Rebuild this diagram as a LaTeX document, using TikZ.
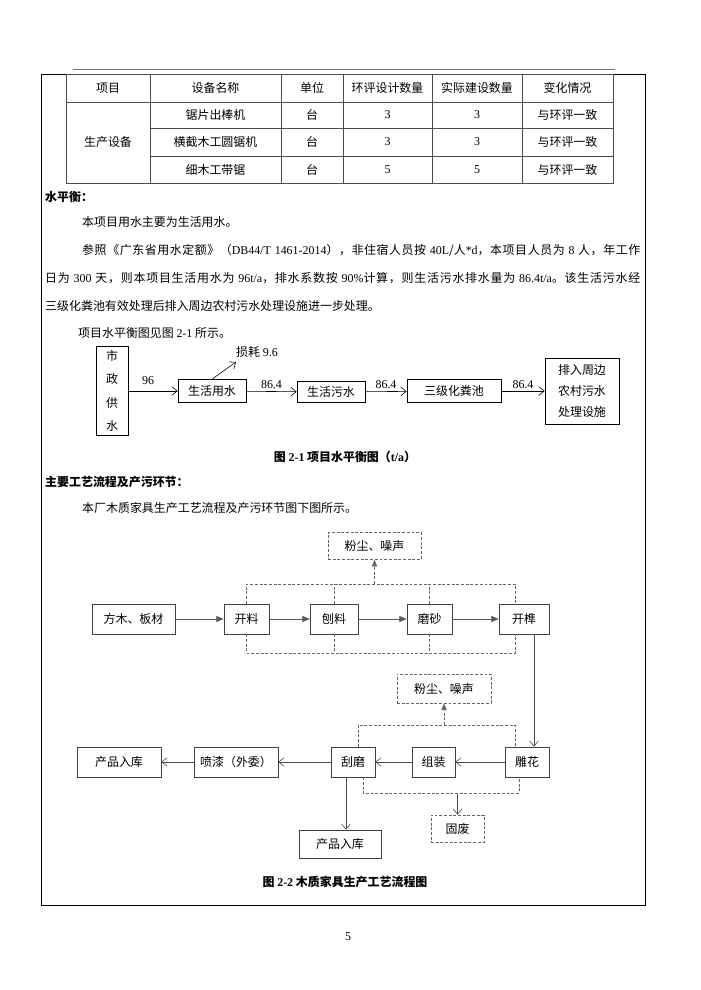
\documentclass[tikz,border=0pt]{standalone}
\usepackage{fontspec}
\setmainfont{Noto Sans CJK SC}
\newfontfamily\latf{Liberation Serif}
\newcommand\en[1]{{\latf #1}}
\usepackage{tikz}
\usetikzlibrary{arrows.meta,calc}
% stretchable glue between CJK characters, for the justified lines
\XeTeXinterchartokenstate=1
\newXeTeXintercharclass\cjkcls
\makeatletter
\count@="4E00
\loop\ifnum\count@<"A000 \XeTeXcharclass\count@=\cjkcls \advance\count@ 1 \repeat
\count@="3000
\loop\ifnum\count@<"3040 \XeTeXcharclass\count@=\cjkcls \advance\count@ 1 \repeat
\count@="FF00
\loop\ifnum\count@<"FF60 \XeTeXcharclass\count@=\cjkcls \advance\count@ 1 \repeat
\makeatother
\XeTeXinterchartoks\cjkcls\cjkcls={\hskip0pt plus 1pt\relax}
\newcommand\jline[2]{\hbox to #1{\spaceskip=0.3em plus 0.3pt\relax #2}}

\begin{document}
\begin{tikzpicture}[
  x=0.3mm, y=-0.3mm,
  every node/.style={font=\fontsize{10.2pt}{12pt}\selectfont, inner sep=0pt},
  txt/.style={anchor=west},
  tbl/.style={draw=black!70, line width=0.5pt},
  box/.style={draw, line width=0.6pt, align=center},
  gbox/.style={draw=black!75, line width=0.5pt, align=center},
  dsh/.style={dash pattern=on 2.5pt off 1.5pt, draw=black!60, line width=0.5pt},
  dbox/.style={gbox, dsh},
  wh/.style 2 args={minimum width=#1*0.3mm, minimum height=#2*0.3mm},
  arr/.style={-{Straight Barb[length=1.6mm,width=2.6mm]}, line width=0.5pt},
  garr/.style={arr, draw=black!70},
  tri/.style={-{Triangle[length=2.2mm,width=1.8mm]}, draw=black!65, line width=0.5pt},
  captxt/.style={font=\fontsize{10.2pt}{12pt}\selectfont\bfseries},
]
  \useasboundingbox (0,0) rectangle (700,990);

  % page frame
  \draw[black!55, line width=0.5pt] (73,69) -- (615,69);
  \draw[line width=0.6pt] (41,74) rectangle (645,905);

  % equipment table
  \draw[tbl] (66,74) rectangle (613,183);
  \draw[tbl] (66,102) -- (613,102);
  \draw[tbl] (150,128) -- (613,128) (150,156) -- (613,156);
  \foreach \x in {150,281,343,432,522} \draw[tbl] (\x,74) -- (\x,183);

  \node (th1) at (108,88) {项目};
  \node (th2) at (215.5,88) {设备名称};
  \node (th3) at (312,88) {单位};
  \node (th4) at (387.5,88) {环评设计数量};
  \node (th5) at (477,88) {实际建设数量};
  \node (th6) at (567.5,88) {变化情况};
  \node (tc1) at (108,142) {生产设备};
  \node (r1a) at (215.5,115) {锯片出棒机};
  \node (r1b) at (312,115) {台};
  \node (r1c) at (387.5,115) {\en{3}};
  \node (r1d) at (477,115) {\en{3}};
  \node (r1e) at (567.5,115) {与环评一致};
  \node (r2a) at (215.5,142) {横截木工圆锯机};
  \node (r2b) at (312,142) {台};
  \node (r2c) at (387.5,142) {\en{3}};
  \node (r2d) at (477,142) {\en{3}};
  \node (r2e) at (567.5,142) {与环评一致};
  \node (r3a) at (215.5,170) {细木工带锯};
  \node (r3b) at (312,170) {台};
  \node (r3c) at (387.5,170) {\en{5}};
  \node (r3d) at (477,170) {\en{5}};
  \node (r3e) at (567.5,170) {与环评一致};

  % water balance text
  \node[txt] (hw) at (45,197) {\bfseries 水平衡：};
  \node[txt] (p1) at (82,222) {本项目用水主要为生活用水。};
  \node[txt] (p2) at (82,250) {\jline{167.4mm}{参照《广东省用水定额》（\en{DB44/T 1461-2014}），非住宿人员按 \en{40L}/人\en{*d}，本项目人员为 \en{8} 人，年工作}};
  \node[txt] (p3) at (45,278) {\jline{178.5mm}{日为 \en{300} 天，则本项目生活用水为 \en{96t/a}，排水系数按 \en{90\%}计算，则生活污水排水量为 \en{86.4t/a}。该生活污水经}};
  \node[txt] (p4) at (45,306) {三级化粪池有效处理后排入周边农村污水处理设施进一步处理。};
  \node[txt] (p5) at (78,333) {项目水平衡图见图 \en{2-1} 所示。};

  % water balance diagram
  \node[box, wh={32}{89}, font=\fontsize{10.2pt}{19.8pt}\selectfont] (sz) at (112,391) {市\\政\\供\\水};
  \node[box, wh={68}{23}] (sy) at (212,391) {生活用水};
  \node[box, wh={68}{21}] (ws) at (331,392) {生活污水};
  \node[box, wh={94}{23}] (hf) at (454,391) {三级化粪池};
  \node[box, wh={74}{66}, font=\fontsize{10.2pt}{18pt}\selectfont] (pr) at (582,391) {排入周边\\农村污水\\处理设施};
  \node[txt] (loss) at (236,352) {损耗 \en{9.6}};
  \coordinate (lossend) at (236,362);

  \draw[arr] (sz) -- node[above=5pt, pos=0.4] {\en{96}} (sy);
  \draw[arr] (sy.north) -- (lossend);
  \draw[arr] (sy) -- node[above=2pt] {\en{86.4}} (ws);
  \draw[arr] (ws) -- node[above=2pt] {\en{86.4}} (hf);
  \draw[arr] (hf) -- node[above=2pt] {\en{86.4}} (pr);

  \node[captxt] (cap1) at (345,457) {图 \en{2-1} 项目水平衡图（\en{t/a}）};

  % process text
  \node[txt] (hp) at (45,482) {\bfseries 主要工艺流程及产污环节：};
  \node[txt] (p6) at (82,508) {本厂木质家具生产工艺流程及产污环节图下图所示。};

  % process diagram, first row
  \node[dbox, wh={93}{27}] (fc1) at (374.5,546) {粉尘、噪声};
  \node[gbox, wh={83}{30}] (fm) at (133.5,619) {方木、板材};
  \node[gbox, wh={45}{30}] (kl) at (246.5,619) {开料};
  \node[gbox, wh={48}{30}] (bl) at (334,619) {刨料};
  \node[gbox, wh={45}{30}] (ms) at (429.5,619) {磨砂};
  \node[gbox, wh={50}{30}] (ks) at (524,619) {开榫};

  \draw[tri] (fm) -- (kl);
  \draw[tri] (kl) -- (bl);
  \draw[tri] (bl) -- (ms);
  \draw[tri] (ms) -- (ks);

  \coordinate (u1) at (374.5,584);
  \coordinate (u1r) at (515,584);
  \coordinate (d1r) at (515,653);
  \draw[dsh] (kl.north) |- (u1r) -- (u1r |- ks.north);
  \draw[dsh] (bl.north) -- (bl.north |- u1);
  \draw[dsh] (ms.north) -- (ms.north |- u1);
  \draw[dsh] (kl.south) |- (d1r) -- (d1r |- ks.south);
  \draw[dsh] (bl.south) -- (bl.south |- d1r);
  \draw[dsh] (ms.south) -- (ms.south |- d1r);
  \draw[dsh, -{Triangle[length=2mm,width=1.6mm]}] (u1) -- (fc1.south);

  % process diagram, second row
  \node[dbox, wh={94}{29}] (fc2) at (444,688.5) {粉尘、噪声};
  \node[gbox, wh={84}{30}] (cp1) at (119,762) {产品入库};
  \node[gbox, wh={84}{30}] (pq) at (236,762) {喷漆（外委）};
  \node[gbox, wh={44}{30}] (gm) at (353,762) {刮磨};
  \node[gbox, wh={43}{30}] (zz) at (433.5,762) {组装};
  \node[gbox, wh={44}{30}] (dh) at (527,762) {雕花};
  \node[gbox, wh={82}{28}] (cp2) at (340,844) {产品入库};
  \node[dbox, wh={53}{27}] (gf) at (457.5,828.5) {固废};

  \coordinate (kx) at (534,700);
  \draw[garr] (kx |- ks.south) -- (kx |- dh.north);
  \draw[garr] (dh) -- (zz);
  \draw[garr] (zz) -- (gm);
  \draw[garr] (gm) -- (pq);
  \draw[garr] (pq) -- (cp1);
  \coordinate (gx) at (346,800);
  \draw[garr] (gx |- gm.south) -- (gx |- cp2.north);

  \coordinate (u2) at (444,725);
  \coordinate (u2l) at (358,725);
  \coordinate (u2r) at (515,725);
  \draw[dsh] (u2l |- gm.north) -- (u2l) -- (u2r) -- (u2r |- dh.north);
  \draw[dsh, -{Triangle[length=2mm,width=1.6mm]}] (u2) -- (fc2.south);
  \coordinate (d2l) at (363,793);
  \coordinate (d2r) at (519,793);
  \coordinate (d2) at (457.5,793);
  \draw[dsh] (d2l |- gm.south) -- (d2l) -- (d2r) -- (d2r |- dh.south);
  \draw[garr] (d2) -- (gf.north);

  \node[captxt] (cap2) at (345,882) {图 \en{2-2} 木质家具生产工艺流程图};
  \node (pg) at (348,937) {\en{5}};
\end{tikzpicture}
\end{document}
